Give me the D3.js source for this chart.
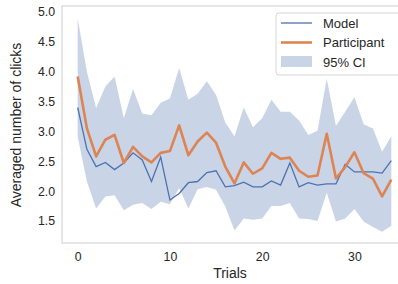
<!DOCTYPE html>
<html>
<head>
<meta charset="utf-8">
<script src="https://cdn.jsdelivr.net/npm/d3@7"></script>
<style>
body { margin: 0; background: #fff; }
text { font-family: "Liberation Sans", Arial, sans-serif; fill: #262626; }
</style>
</head>
<body>
<script>
var trials = d3.range(0, 35);
var model = [3.40, 2.70, 2.41, 2.48, 2.36, 2.47, 2.64, 2.52, 2.16, 2.57,
             1.85, 1.96, 2.14, 2.16, 2.31, 2.34, 2.07, 2.09, 2.15, 2.07,
             2.07, 2.17, 2.10, 2.47, 2.07, 2.14, 2.10, 2.12, 2.12, 2.45,
             2.32, 2.32, 2.32, 2.30, 2.51];
var participant = [3.92, 3.05, 2.58, 2.86, 2.94, 2.47, 2.74, 2.58, 2.48, 2.64,
                   2.67, 3.10, 2.60, 2.83, 2.98, 2.81, 2.41, 2.13, 2.48, 2.29,
                   2.38, 2.64, 2.54, 2.56, 2.34, 2.24, 2.26, 2.96, 2.21, 2.40,
                   2.65, 2.30, 2.21, 1.91, 2.19];
var ciUpper = [4.89, 4.00, 3.39, 3.75, 3.92, 3.22, 3.71, 3.30, 3.27, 3.48,
               3.55, 4.06, 3.53, 3.63, 3.84, 3.61, 3.15, 2.92, 3.40, 3.07,
               3.22, 3.53, 3.33, 3.33, 3.18, 2.94, 3.01, 3.88, 3.09, 3.33,
               3.57, 3.12, 3.05, 2.66, 2.92];
var ciLower = [2.91, 2.16, 1.71, 1.91, 1.93, 1.68, 1.77, 1.80, 1.70, 1.82,
               1.78, 2.05, 1.71, 2.03, 2.07, 2.02, 1.74, 1.34, 1.54, 1.52,
               1.54, 1.75, 1.75, 1.80, 1.54, 1.53, 1.50, 1.97, 1.49, 1.54,
               1.70, 1.49, 1.40, 1.32, 1.42];
var xTicks = [0, 10, 20, 30];
var yTicks = [1.5, 2.0, 2.5, 3.0, 3.5, 4.0, 4.5, 5.0];
var legendLabels = ["Model", "Participant", "95% CI"];

var w = 398, h = 284;
var blue = "#4c72b0", orange = "#dd8452";

var svg = d3.select("body").append("svg")
    .attr("width", w)
    .attr("height", h);

var x = d3.scaleLinear().domain([-1.7, 35.7]).range([62, 407]);
var y = d3.scaleLinear().domain([1.13, 5.1]).range([243, 6]);

// frame
svg.append("rect")
    .attr("x", x.range()[0]).attr("y", y.range()[1])
    .attr("width", x.range()[1] - x.range()[0])
    .attr("height", y.range()[0] - y.range()[1])
    .attr("fill", "none")
    .attr("stroke", "#d6d6d6")
    .attr("stroke-width", 1.2);

var band = d3.area()
    .x(function(d, i) { return x(trials[i]); })
    .y0(function(d, i) { return y(ciLower[i]); })
    .y1(function(d, i) { return y(ciUpper[i]); });

svg.append("path")
    .datum(trials)
    .attr("d", band)
    .attr("fill", blue)
    .attr("fill-opacity", 0.3);

var line = function(vals) {
    return d3.line()
        .x(function(d, i) { return x(trials[i]); })
        .y(function(d) { return y(d); })(vals);
};

svg.append("path")
    .attr("d", line(model))
    .attr("fill", "none")
    .attr("stroke", blue)
    .attr("stroke-width", 1.3);

svg.append("path")
    .attr("d", line(participant))
    .attr("fill", "none")
    .attr("stroke", orange)
    .attr("stroke-width", 2.6)
    .attr("stroke-linejoin", "round");

// axes (no tick marks, seaborn white style)
var xAxis = d3.axisBottom(x).tickValues(xTicks).tickSize(0).tickPadding(9)
    .tickFormat(d3.format("d"));
var gx = svg.append("g")
    .attr("transform", "translate(0," + y.range()[0] + ")")
    .call(xAxis);
gx.select(".domain").remove();
gx.selectAll("text").style("font-size", "12.3px").attr("fill", "#262626");

var yAxis = d3.axisLeft(y).tickValues(yTicks).tickSize(0).tickPadding(7)
    .tickFormat(d3.format(".1f"));
var gy = svg.append("g")
    .attr("transform", "translate(" + x.range()[0] + ",0)")
    .call(yAxis);
gy.select(".domain").remove();
gy.selectAll("text").style("font-size", "12.3px").attr("fill", "#262626");

svg.append("text")
    .attr("x", 230).attr("y", 278)
    .attr("text-anchor", "middle")
    .style("font-size", "14px")
    .text("Trials");

svg.append("text")
    .attr("transform", "translate(21,125) rotate(-90)")
    .attr("text-anchor", "middle")
    .style("font-size", "14px")
    .text("Averaged number of clicks");

// legend
var lg = svg.append("g").attr("transform", "translate(276,13)");
lg.append("rect")
    .attr("width", 126).attr("height", 62)
    .attr("rx", 3)
    .attr("fill", "#fff").attr("fill-opacity", 0.8)
    .attr("stroke", "#d6d6d6");

legendLabels.forEach(function(lab, i) {
    var cy = 10 + i * 19.5;
    if (i === 0) {
        lg.append("line").attr("x1", 5).attr("x2", 36).attr("y1", cy).attr("y2", cy)
            .attr("stroke", blue).attr("stroke-width", 1.3);
    } else if (i === 1) {
        lg.append("line").attr("x1", 5).attr("x2", 36).attr("y1", cy).attr("y2", cy)
            .attr("stroke", orange).attr("stroke-width", 2.6);
    } else {
        lg.append("rect").attr("x", 5).attr("y", cy - 6).attr("width", 31).attr("height", 11)
            .attr("fill", blue).attr("fill-opacity", 0.3);
    }
    lg.append("text")
        .attr("x", 47).attr("y", cy + 4.5)
        .style("font-size", "13px")
        .text(lab);
});
</script>
</body>
</html>
